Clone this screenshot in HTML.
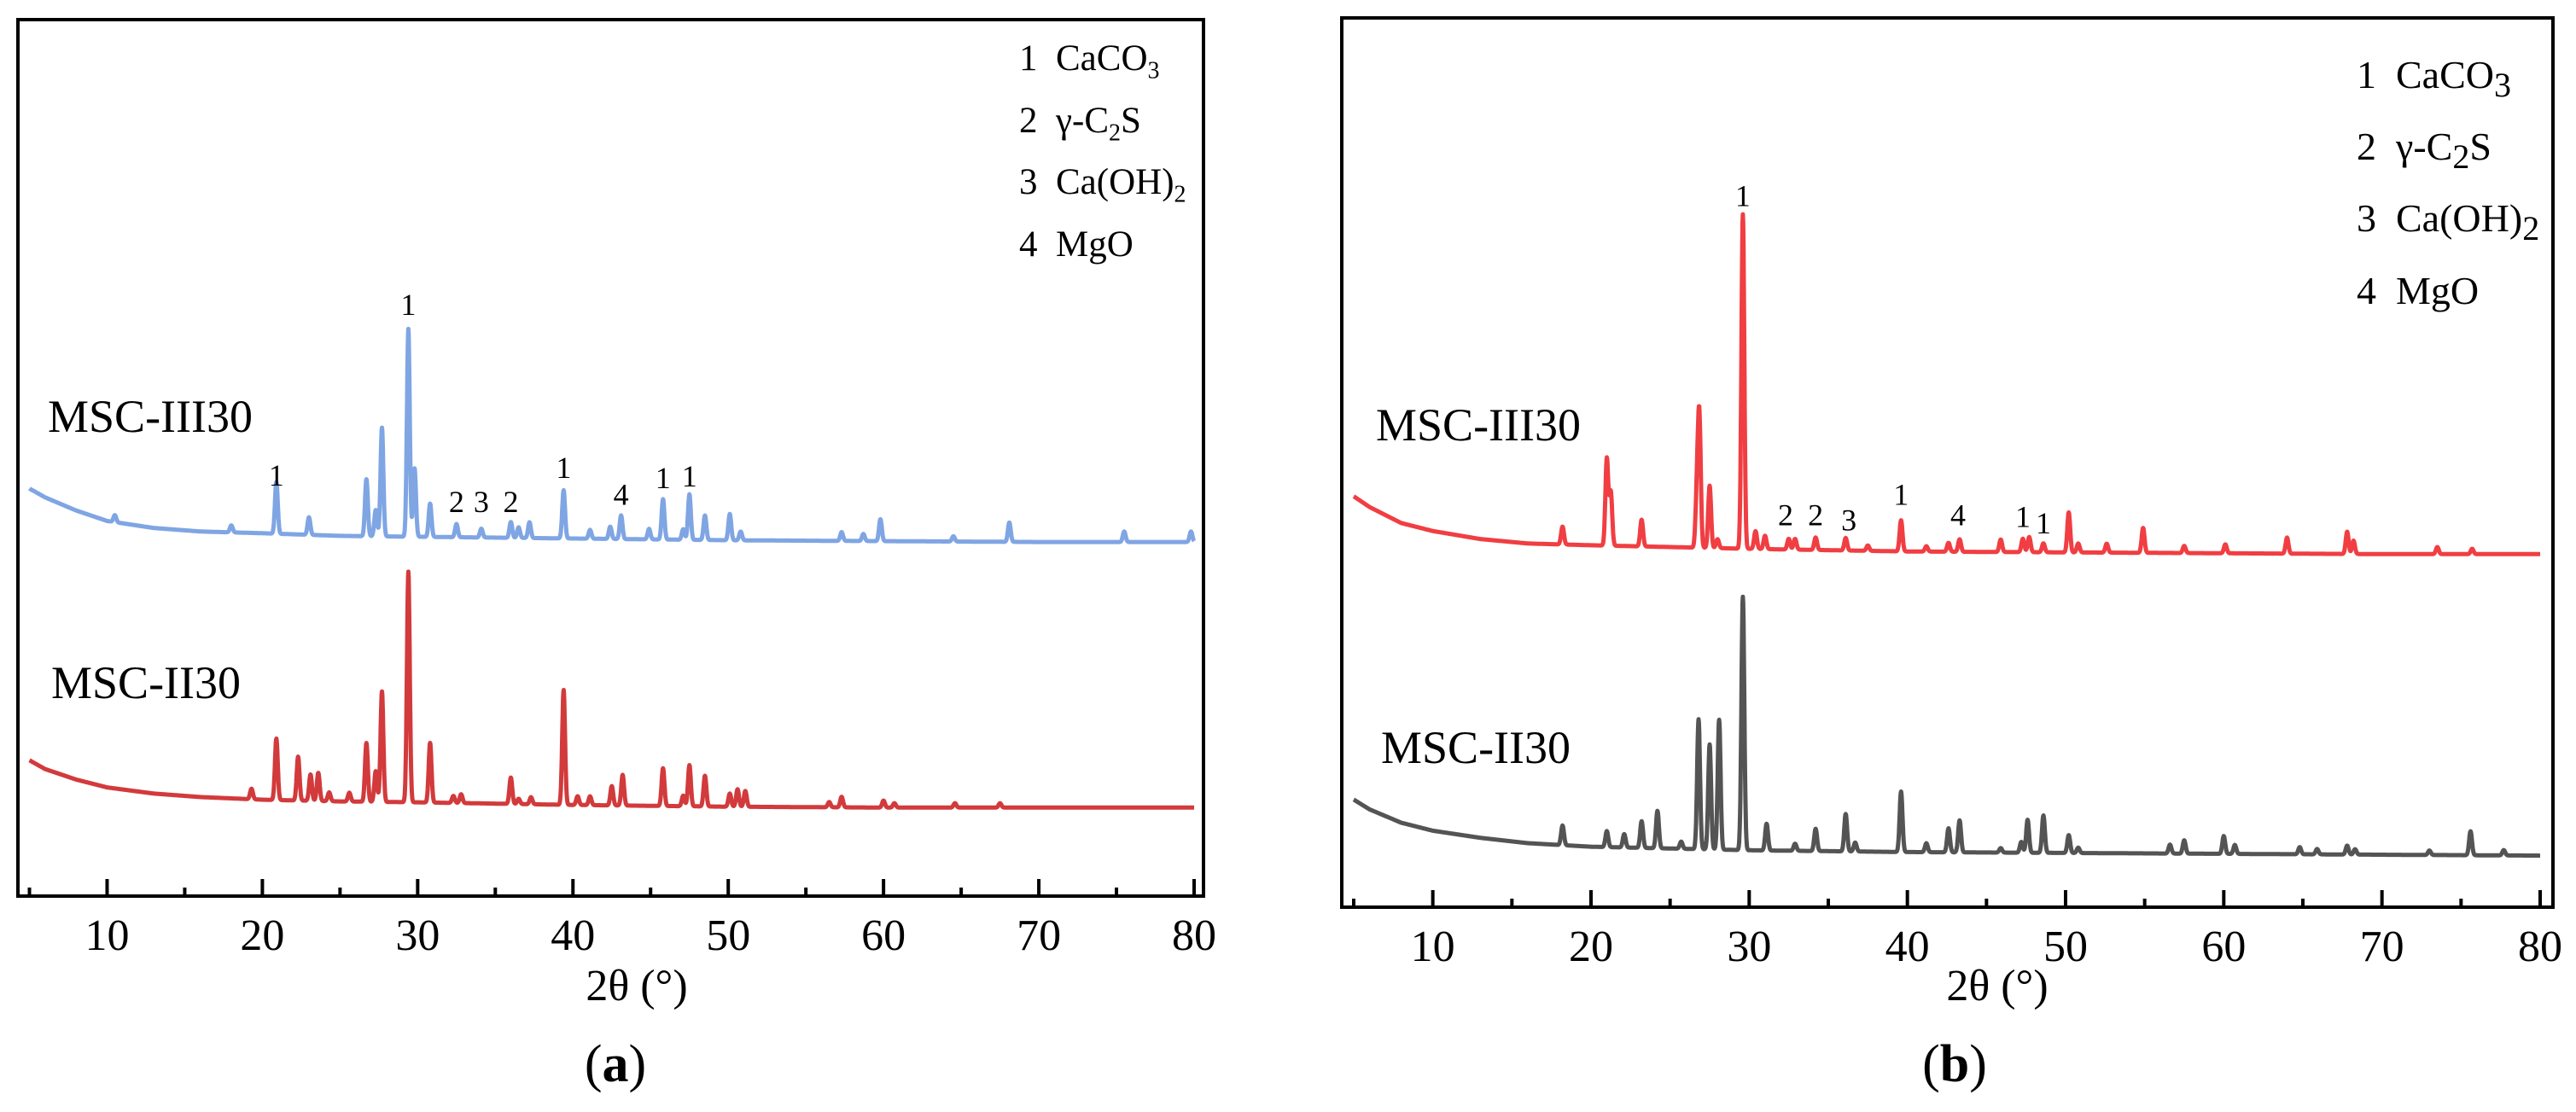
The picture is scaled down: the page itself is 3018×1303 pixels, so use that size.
<!DOCTYPE html>
<html><head><meta charset="utf-8"><style>
html,body{margin:0;padding:0;background:#fff;}
svg{display:block;font-family:"Liberation Serif",serif;}
</style></head><body>
<svg id="chart" width="3018" height="1303" viewBox="0 0 3018 1303">
<g id="pa"></g>
<g id="pb"></g>
</svg>
<script>
// ---- data (intensity in a.u., background sampled + peaks [2theta, height]) ----
const xTicks = [10,20,30,40,50,60,70,80];
const minorTicks = [5,15,25,35,45,55,65,75];
const bgX = [5,6,8,10,13,16,20,25,30,40,50,60,70,80];
const aBlueBg = [465,455,440,428,420,416,414,411,410,408,406,405,404,404];
const aBluePos = [10.5,18,20.9,23.0,26.7,27.3,27.7,29.4,29.8,30.8,32.5,34.1,36.0,36.5,37.2,39.4,41.1,42.4,43.1,44.9,45.8,47.1,47.5,48.5,50.1,50.8,57.3,58.7,59.8,64.5,68.1,75.5,79.8];
const aBlueH   = [8,8,59,20,65,30,124,237,78,38,15,10,18,12,18,55,10,14,27,12,46,12,52,28,30,10,10,8,25,6,22,12,12];
const aRedBg = [155,145,133,124,117,113,110,108,107,104,102,101,101,101];
const aRedPos = [19.3,20.9,22.3,23.1,23.6,24.3,25.6,26.7,27.3,27.7,29.4,30.8,32.3,32.8,36.0,36.5,37.3,39.4,40.3,41.1,42.5,43.2,45.8,47.1,47.5,48.5,50.1,50.6,51.1,56.5,57.3,60.0,60.7,64.6,67.5];
const aRedH   = [12,70,50,30,32,10,10,67,35,126,263,68,8,10,30,6,8,131,10,10,22,35,43,12,47,35,15,20,18,6,12,8,5,5,5];
const bRedBg = [462,450,432,423,414,409,407,405,403,400,399,398,397,397];
const bRedPos = [18.2,21.0,21.25,23.2,26.7,26.85,27.5,28.0,29.6,30.4,31.0,32.5,32.9,34.2,36.1,37.5,39.6,41.2,42.6,43.3,45.9,47.3,47.7,48.6,50.2,50.8,52.6,54.9,57.5,60.1,64.0,67.8,68.2,73.5,75.7];
const bRedH   = [20,98,60,30,60,142,70,10,376,20,15,12,12,14,14,6,35,6,10,14,14,15,17,10,45,10,10,28,8,10,18,25,15,8,6];
const bGrayBg = [121,110,95,86,78,72,68,66,64,62,61,60,59,58];
const bGrayPos = [18.2,21.0,22.1,23.2,24.2,25.7,26.8,27.5,28.1,29.6,31.1,32.9,34.2,36.1,36.7,39.6,41.2,42.6,43.3,45.9,47.2,47.6,48.6,50.2,50.8,56.6,57.5,60.0,60.7,64.8,65.9,67.8,68.3,73.0,75.6,77.7];
const bGrayH   = [22,18,15,30,42,8,146,118,146,285,30,8,25,42,10,68,10,27,36,5,12,37,42,20,6,10,15,20,10,8,6,10,6,5,27,6];
const aMarkX = [20.9,29.4,32.5,34.1,36.0,39.4,43.1,45.8,47.5];
const aMarkT = ["1","1","2","3","2","1","4","1","1"];
const aMarkV = [480,675,450,450,450,489,458,477,479];
const bMarkX = [29.6,32.3,34.2,36.3,39.6,43.2,47.3,48.6];
const bMarkT = ["1","2","2","3","1","4","1","1"];
const bMarkV = [800,441,441,435,464,441,439,432];

const NS="http://www.w3.org/2000/svg";
function el(tag, attrs, parent){const e=document.createElementNS(NS,tag);for(const k in attrs)e.setAttribute(k,attrs[k]);parent.appendChild(e);return e;}
function interp(xs,ys,x){if(x<=xs[0])return ys[0];for(let i=1;i<xs.length;i++){if(x<=xs[i]){const t=(x-xs[i-1])/(xs[i]-xs[i-1]);return ys[i-1]+t*(ys[i]-ys[i-1]);}}return ys[ys.length-1];}
function intensity(x,bg,pos,h){let v=interp(bgX,bg,x);for(let i=0;i<pos.length;i++){const d=(x-pos[i])/0.09;v+=h[i]*Math.exp(-0.5*d*d);}return v;}

function panel(g,cfg){
  const X=v=>cfg.x0+(v-5)*(cfg.x80-cfg.x0)/75;
  const Y=v=>cfg.bottom-v*(cfg.bottom-cfg.top)/1000;
  const frame=el('rect',{x:cfg.left,y:cfg.top,width:cfg.right-cfg.left,height:cfg.bottom-cfg.top,fill:'none',stroke:'#000','stroke-width':4},g);
  
  
  xTicks.forEach(t=>{
    const l=el('line',{x1:X(t),x2:X(t),y1:cfg.bottom,y2:cfg.bottom-20,stroke:'#000','stroke-width':4},g);
    
    
    const tx=el('text',{x:X(t),y:cfg.bottom+63,'font-size':52,'text-anchor':'middle'},g);
    tx.textContent=t;
    
    
  });
  minorTicks.forEach(t=>{
    const l=el('line',{x1:X(t),x2:X(t),y1:cfg.bottom,y2:cfg.bottom-10,stroke:'#000','stroke-width':4},g);
    
    
  });
  cfg.series.forEach(s=>{
    let d='';
    for(let x=5;x<=80.001;x+=0.02){const v=intensity(x,s.bg,s.pos,s.h);d+=(d?'L':'M')+X(x).toFixed(1)+','+Y(v).toFixed(1);}
    const p=el('path',{d:d,fill:'none',stroke:s.color,'stroke-width':5,'stroke-linejoin':'round'},g);
    
    
  });
  cfg.markX.forEach((m,i)=>{
    const t=el('text',{x:X(m),y:Y(cfg.markV[i])+12,'font-size':36,'text-anchor':'middle'},g);
    t.textContent=cfg.markT[i];
    
    
  });
}

panel(document.getElementById('pa'),{left:21,right:1410,top:23,bottom:1050,x0:34.5,x80:1399,
  series:[{bg:aBlueBg,pos:aBluePos,h:aBlueH,color:'#7fa5e3',name:'msc-iii30-trace'},
          {bg:aRedBg,pos:aRedPos,h:aRedH,color:'#d23a3c',name:'msc-ii30-trace'}],
  markX:aMarkX,markT:aMarkT,markV:aMarkV});
panel(document.getElementById('pb'),{left:1572,right:2991,top:21,bottom:1063,x0:1586,x80:2976,
  series:[{bg:bRedBg,pos:bRedPos,h:bRedH,color:'#f03e42',name:'msc-iii30-trace'},
          {bg:bGrayBg,pos:bGrayPos,h:bGrayH,color:'#545454',name:'msc-ii30-trace'}],
  markX:bMarkX,markT:bMarkT,markV:bMarkV});
</script>
<div style="position:absolute;left:0;top:0;width:3018px;height:1303px;pointer-events:none;font-family:'Liberation Serif',serif;color:#000;">
  <div style="position:absolute;left:56px;top:458px;font-size:54px;line-height:60px;">MSC-III30</div>
  <div style="position:absolute;left:60px;top:770px;font-size:54px;line-height:60px;">MSC-II30</div>
  <div style="position:absolute;left:1612px;top:468px;font-size:54px;line-height:60px;">MSC-III30</div>
  <div style="position:absolute;left:1618px;top:846px;font-size:54px;line-height:60px;">MSC-II30</div>
  <div style="position:absolute;left:1194px;top:40px;font-size:43px;line-height:58px;">
    <div>1&nbsp; CaCO<sub style="font-size:28px">3</sub></div>
    <div>2&nbsp; γ-C<sub style="font-size:28px">2</sub>S</div>
    <div>3&nbsp; Ca(OH)<sub style="font-size:28px">2</sub></div>
    <div>4&nbsp; MgO</div>
  </div>
  <div style="position:absolute;left:2761px;top:52px;font-size:46px;line-height:72px;">
    <div>1&nbsp; CaCO<sub style="font-size:40px">3</sub></div>
    <div>2&nbsp; γ-C<sub style="font-size:40px">2</sub>S</div>
    <div>3&nbsp; Ca(OH)<sub style="font-size:40px">2</sub></div>
    <div>4&nbsp; MgO</div>
  </div>
  <div style="position:absolute;left:646px;width:200px;text-align:center;top:1126px;font-size:52px;line-height:60px;">2θ (°)</div>
  <div style="position:absolute;left:2240px;width:200px;text-align:center;top:1126px;font-size:52px;line-height:60px;">2θ (°)</div>
  <div style="position:absolute;left:621px;width:200px;text-align:center;top:1212px;font-size:62px;line-height:70px;">(<b>a</b>)</div>
  <div style="position:absolute;left:2190px;width:200px;text-align:center;top:1212px;font-size:62px;line-height:70px;">(<b>b</b>)</div>
</div>
</body></html>
